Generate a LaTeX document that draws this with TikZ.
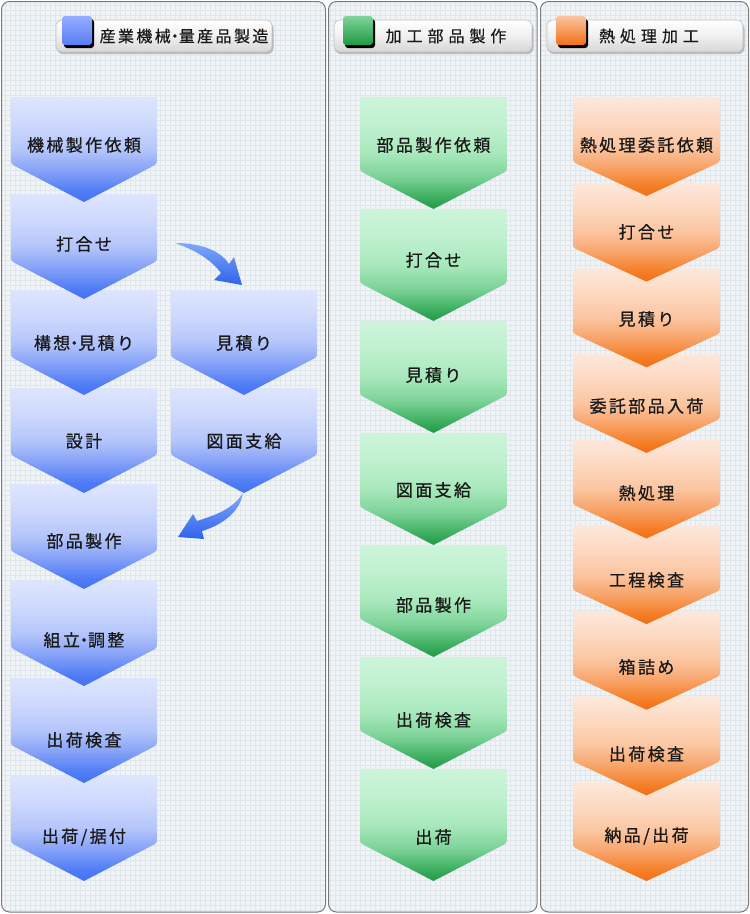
\documentclass[tikz,border=0pt]{standalone}
\usepackage{fontspec}
\setmainfont{Noto Sans CJK JP}
\newfontfamily\jpstep[LetterSpace=14,FakeBold=0.7]{Noto Sans CJK JP}
\newfontfamily\jpheadA[LetterSpace=15,FakeBold=0.5]{Noto Sans CJK JP}
\newfontfamily\jpheadB[LetterSpace=31,FakeBold=0.5]{Noto Sans CJK JP}

\definecolor{bl1}{HTML}{4470F3}
\definecolor{bl2}{HTML}{4E7CF5}
\definecolor{bl3}{HTML}{86A2F8}
\definecolor{bl4}{HTML}{B4C5FB}
\definecolor{bl5}{HTML}{CDD8FD}
\definecolor{bl6}{HTML}{DDE5FE}
\definecolor{gr1}{HTML}{1E9A45}
\definecolor{gr2}{HTML}{3CAE5F}
\definecolor{gr3}{HTML}{7FD49A}
\definecolor{gr4}{HTML}{A8E8BC}
\definecolor{gr5}{HTML}{BFF0CF}
\definecolor{gr6}{HTML}{CDF4DA}
\definecolor{or1}{HTML}{F07018}
\definecolor{or2}{HTML}{F47D25}
\definecolor{or3}{HTML}{F8A46A}
\definecolor{or4}{HTML}{FBC5A0}
\definecolor{or5}{HTML}{FDD8C0}
\definecolor{or6}{HTML}{FDE8DC}
\definecolor{panelbg}{HTML}{F1F4F7}
\definecolor{gridc}{HTML}{DFE6EC}
\definecolor{panelline}{HTML}{7A7A7A}
\definecolor{arrtop}{HTML}{7EA9FB}
\definecolor{arrbot}{HTML}{2F62EA}
\definecolor{sqbltop}{HTML}{94AEFF}
\definecolor{sqblbot}{HTML}{5A7CF6}

\pgfdeclareverticalshading{blueV}{100bp}{color(0bp)=(bl1); color(25bp)=(bl1); color(30bp)=(bl2); color(40bp)=(bl3); color(50bp)=(bl4); color(62bp)=(bl5); color(75bp)=(bl6); color(100bp)=(bl6)}
\pgfdeclareverticalshading{greenV}{100bp}{color(0bp)=(gr1); color(25bp)=(gr1); color(30bp)=(gr2); color(40bp)=(gr3); color(50bp)=(gr4); color(62bp)=(gr5); color(75bp)=(gr6); color(100bp)=(gr6)}
\pgfdeclareverticalshading{orangeV}{100bp}{color(0bp)=(or1); color(25bp)=(or1); color(30bp)=(or2); color(40bp)=(or3); color(50bp)=(or4); color(62bp)=(or5); color(75bp)=(or6); color(100bp)=(or6)}

\newcommand\stepfont{\jpstep\fontsize{17}{20}\selectfont}
\newcommand\hdot{\makebox[8pt]{・}}

\tikzset{
  steptext/.style={font=\stepfont, text=black!90, inner sep=0pt},
  headtext/.style={text=black!90, inner sep=0pt},
  headbox/.style={rounded corners=6, top color=white, bottom color=black!16, middle color=black!6, draw=black!25, line width=0.6pt},
  headshadow/.style={rounded corners=6, fill=black!30!blue!8!gray!60, opacity=0.8},
  sqshadow/.style={rounded corners=3, fill=black},
  gridline/.style={draw=gridc, line width=0.7pt},
  arrowshape/.style={top color=arrtop, bottom color=arrbot},
}

\newcommand\chev[9]{%
 \pgfmathsetmacro\chXm{(#2+#3)/2}%
 \pgfmathsetmacro\chYs{#4+#5}%
 \pgfmathsetmacro\chYp{#4+#6}%
 \pgfmathsetmacro\chHw{(#3-#2)/2}%
 \pgfmathsetmacro\chVd{#6-#5}%
 \pgfmathsetmacro\chL{sqrt(\chHw*\chHw+\chVd*\chVd)}%
 \pgfmathsetmacro\chCx{6*\chHw/\chL}%
 \pgfmathsetmacro\chCy{6*\chVd/\chL}%
 \shade[shading=#7] (#2,#4) -- (#3,#4) -- (#3,\chYs-6) .. controls (#3,\chYs) .. (#3-\chCx,\chYs+\chCy) -- (\chXm,\chYp) -- (#2+\chCx,\chYs+\chCy) .. controls (#2,\chYs) .. (#2,\chYs-6) -- cycle;
 \node[steptext] (#1) at (\chXm,#8) {#9};
}

\begin{document}
\begin{tikzpicture}[x=1pt,y=-1pt]
\useasboundingbox (0,0) rectangle (750,914);
\fill[white] (0,0) rectangle (750,914);

% panels with grid
\begin{scope}
\clip[rounded corners=8] (1.5,1.5) rectangle (325.5,912) (328.5,1.5) rectangle (537,912) (540.5,1.5) rectangle (748.5,912);
\fill[panelbg] (0,0) rectangle (750,914);
\foreach \gx in {0,5,...,750} \draw[gridline] (\gx,0) -- (\gx,914);
\foreach \gy in {0,5,...,914} \draw[gridline] (0,\gy) -- (750,\gy);
\end{scope}
\draw[panelline, line width=1pt, rounded corners=8] (1.5,1.5) rectangle (325.5,912);
\draw[panelline, line width=1pt, rounded corners=8] (328.5,1.5) rectangle (537,912);
\draw[panelline, line width=1pt, rounded corners=8] (540.5,1.5) rectangle (748.5,912);

% headers
\fill[headshadow] (57,22.5) rectangle (273.5,54);
\shade[headbox] (56,20) rectangle (272,52);
\fill[sqshadow] (64,19) rectangle (94,48);
\shade[rounded corners=3, top color=sqbltop, bottom color=sqblbot] (62,16) rectangle (92,45);
\node[headtext, font=\jpheadA\fontsize{16}{18}\selectfont] (h1) at (184,36) {産業機械\hdot 量産品製造};

\fill[headshadow] (335,22.5) rectangle (533.5,54);
\shade[headbox] (334,20) rectangle (532,52);
\fill[sqshadow] (345,19) rectangle (375,48);
\shade[rounded corners=3, top color=gr3, bottom color=gr1] (343,16) rectangle (373,45);
\node[headtext, font=\jpheadB\fontsize{16}{18}\selectfont] (h2) at (446,36) {加工部品製作};

\fill[headshadow] (548,22.5) rectangle (744.5,54);
\shade[headbox] (547,20) rectangle (743,52);
\fill[sqshadow] (558,19) rectangle (588,48);
\shade[rounded corners=3, top color=or4, bottom color=or1] (556,16) rectangle (586,45);
\node[headtext, font=\jpheadB\fontsize{16}{18}\selectfont] (h3) at (649,36) {熱処理加工};

% column 1 (blue)
\chev{b8}{11}{157}{776}{67}{105}{blueV}{837}{出荷/据付}
\chev{b7}{11}{157}{678}{67}{105}{blueV}{740}{出荷検査}
\chev{b6}{11}{157}{581}{67}{105}{blueV}{640}{組立\hdot 調整}
\chev{b5}{11}{157}{484}{67}{105}{blueV}{541}{部品製作}
\chev{b4}{11}{157}{388}{67}{105}{blueV}{441}{設計}
\chev{b3}{11}{157}{290}{67}{105}{blueV}{343}{構想\hdot 見積り}
\chev{b2}{11}{157}{194}{67}{105}{blueV}{244}{打合せ}
\chev{b1}{11}{157}{97}{67}{105}{blueV}{145}{機械製作依頼}
\chev{r2}{171}{317}{388}{67}{105}{blueV}{441}{図面支給}
\chev{r1}{171}{317}{290}{67}{105}{blueV}{343}{見積り}

% curved arrows
\shade[arrowshape] (175,243) .. controls (200,243) and (220,250) .. (229,264) -- (234,257) -- (242,285) -- (214,280) -- (221,273) .. controls (210,258) and (192,249) .. (175,243) -- cycle;
\shade[arrowshape] (243,493) .. controls (232,510) and (215,515) .. (197,521) -- (193,514) -- (178,537) -- (204,539) -- (202,531) .. controls (222,525) and (240,512) .. (243,493) -- cycle;

% column 2 (green)
\chev{g7}{360}{507}{769}{74}{112}{greenV}{837}{出荷}
\chev{g6}{360}{507}{657}{74}{112}{greenV}{720}{出荷検査}
\chev{g5}{360}{507}{545}{74}{112}{greenV}{605}{部品製作}
\chev{g4}{360}{507}{433}{74}{112}{greenV}{490}{図面支給}
\chev{g3}{360}{507}{321}{74}{112}{greenV}{375}{見積り}
\chev{g2}{360}{507}{209}{74}{112}{greenV}{260}{打合せ}
\chev{g1}{360}{507}{97}{74}{112}{greenV}{145}{部品製作依頼}

% column 3 (orange)
\chev{o9}{573}{720}{782}{65}{99}{orangeV}{836}{納品/出荷}
\chev{o8}{573}{720}{696.4}{65}{99}{orangeV}{754}{出荷検査}
\chev{o7}{573}{720}{610.8}{65}{99}{orangeV}{667}{箱詰め}
\chev{o6}{573}{720}{525.1}{65}{99}{orangeV}{580}{工程検査}
\chev{o5}{573}{720}{439.5}{65}{99}{orangeV}{493}{熱処理}
\chev{o4}{573}{720}{353.9}{65}{99}{orangeV}{406}{委託部品入荷}
\chev{o3}{573}{720}{268.3}{65}{99}{orangeV}{319}{見積り}
\chev{o2}{573}{720}{182.6}{65}{99}{orangeV}{232}{打合せ}
\chev{o1}{573}{720}{97}{65}{99}{orangeV}{145}{熱処理委託依頼}
\end{tikzpicture}
\end{document}
